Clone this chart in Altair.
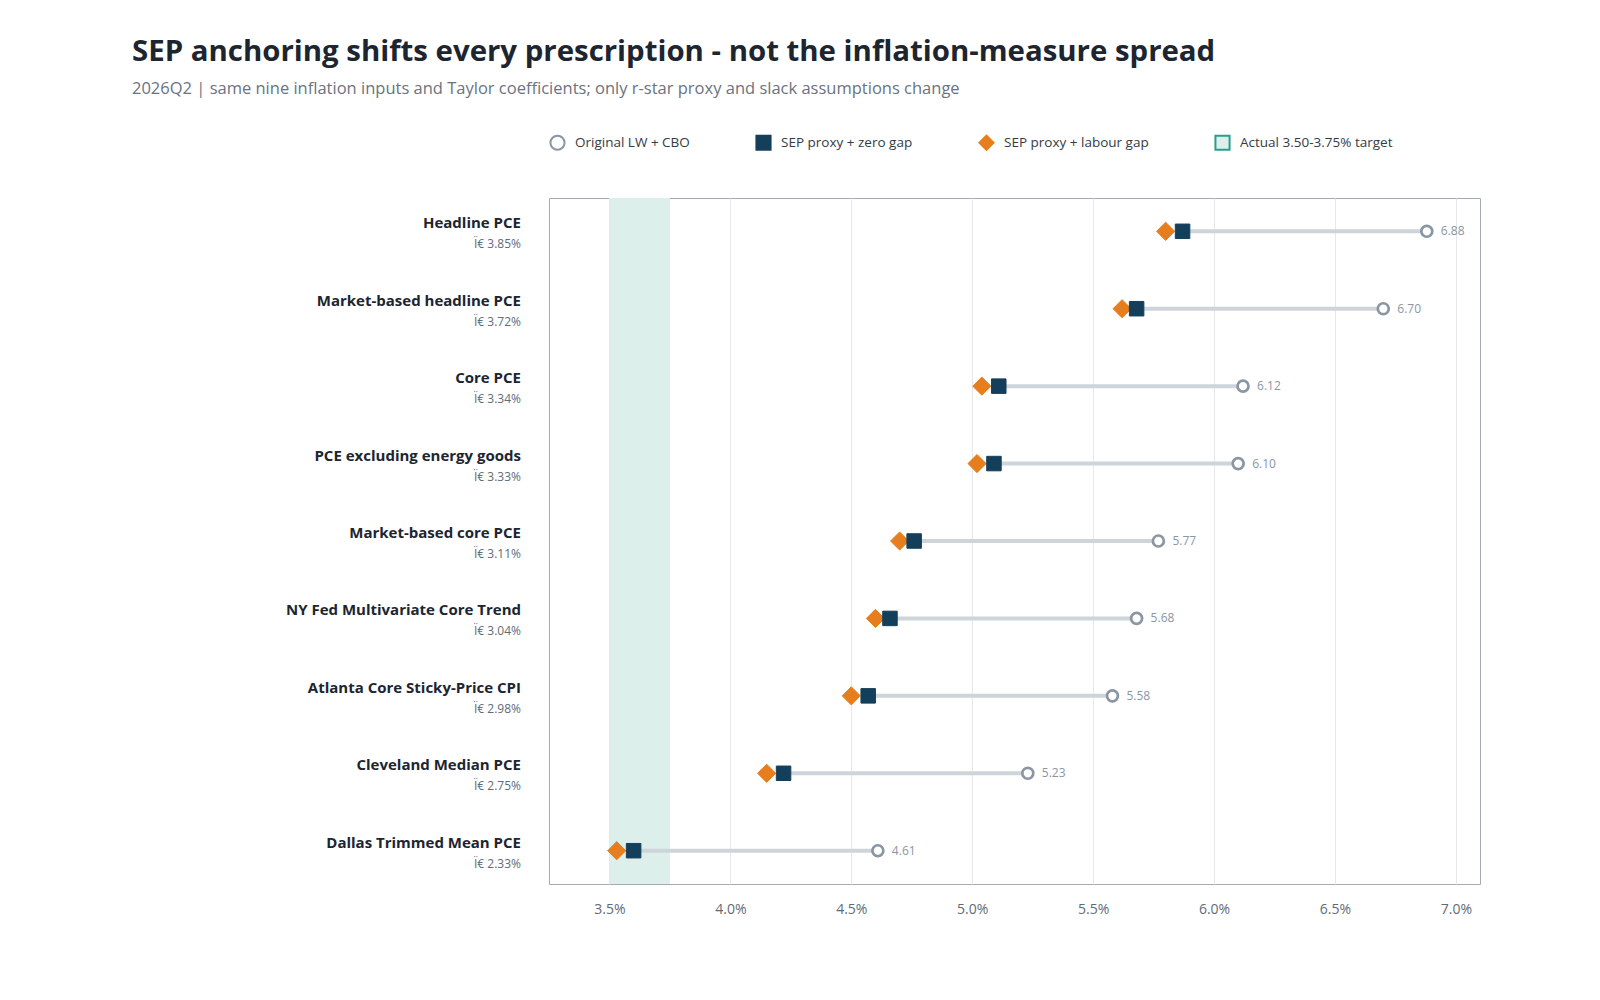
import pandas as pd
import altair as alt

FONT = "Segoe UI, Open Sans, sans-serif"

# data
measures = [
    "Headline PCE",
    "Market-based headline PCE",
    "Core PCE",
    "PCE excluding energy goods",
    "Market-based core PCE",
    "NY Fed Multivariate Core Trend",
    "Atlanta Core Sticky-Price CPI",
    "Cleveland Median PCE",
    "Dallas Trimmed Mean PCE",
]
pi_vals = [3.85, 3.72, 3.34, 3.33, 3.11, 3.04, 2.98, 2.75, 2.33]
lw_cbo = [6.88, 6.70, 6.12, 6.10, 5.77, 5.68, 5.58, 5.23, 4.61]
sep_zero = [5.87, 5.68, 5.11, 5.09, 4.76, 4.66, 4.57, 4.22, 3.60]
sep_labour = [5.80, 5.62, 5.04, 5.02, 4.70, 4.60, 4.50, 4.15, 3.53]

series_names = [
    "Original LW + CBO",
    "SEP proxy + zero gap",
    "SEP proxy + labour gap",
    "Actual 3.50-3.75% target",
]
target_lo, target_hi = 3.50, 3.75

wide = pd.DataFrame({
    "measure": measures,
    "pi": pi_vals,
    "lw": lw_cbo,
    "zero": sep_zero,
    "labour": sep_labour,
})
wide["pi_label"] = ["Ï€ " + f"{v:.2f}%" for v in pi_vals]
wide["lw_label"] = [f"{v:.2f}" for v in lw_cbo]

long = pd.DataFrame({
    "measure": measures * 3,
    "series": [series_names[0]] * 9 + [series_names[2]] * 9 + [series_names[1]] * 9,
    "value": lw_cbo + sep_labour + sep_zero,
})

band = pd.DataFrame({"lo": [target_lo], "hi": [target_hi], "series": [series_names[3]]})

x_scale = alt.Scale(domain=[3.25, 7.1], nice=False, zero=False)
y_enc = alt.Y("measure:N", sort=measures, scale=alt.Scale(type="point", padding=0.43), axis=None)

fill_scale = alt.Scale(domain=series_names, range=["#ffffff", "#143f5b", "#e67e1e", "#dcefea"])
stroke_scale = alt.Scale(domain=series_names, range=["#8a96a3", "#143f5b", "#e67e1e", "#2a9d8f"])
shape_scale = alt.Scale(domain=series_names, range=["circle", "square", "diamond", "square"])

rect = alt.Chart(band).mark_rect(strokeWidth=0).encode(
    x=alt.X("lo:Q", scale=x_scale, title=None,
            axis=alt.Axis(values=[3.5, 4.0, 4.5, 5.0, 5.5, 6.0, 6.5, 7.0],
                          labelExpr="format(datum.value, '.1f') + '%'")),
    x2="hi:Q",
    fill=alt.Fill("series:N", scale=fill_scale, title=None),
    stroke=alt.Stroke("series:N", scale=stroke_scale, title=None),
    shape=alt.Shape("series:N", scale=shape_scale, title=None),
)

rule = alt.Chart(wide).mark_rule(color="#cdd4da", strokeWidth=4).encode(
    x=alt.X("zero:Q", scale=x_scale),
    x2="lw:Q",
    y=y_enc,
)


def point_layer(name, size, sw):
    return alt.Chart(long).transform_filter(
        alt.datum.series == name
    ).mark_point(filled=True, size=size, strokeWidth=sw, opacity=1).encode(
        x=alt.X("value:Q", scale=x_scale),
        y=y_enc,
        fill=alt.Fill("series:N", scale=fill_scale, title=None),
        stroke=alt.Stroke("series:N", scale=stroke_scale, title=None),
        shape=alt.Shape("series:N", scale=shape_scale, title=None),
    )


p_lw = point_layer(series_names[0], 120, 2.7)
p_labour = point_layer(series_names[2], 330, 1)
p_zero = point_layer(series_names[1], 210, 1)

value_labels = alt.Chart(wide).mark_text(
    align="left", baseline="middle", dx=14, fontSize=12, color="#8a96a3", font=FONT
).encode(
    x=alt.X("lw:Q", scale=x_scale),
    y=y_enc,
    text="lw_label:N",
)

name_labels = alt.Chart(wide).mark_text(
    align="right", baseline="middle", dy=-8, fontSize=15, fontWeight="bold", color="#1c2530", font=FONT
).encode(
    x=alt.value(-28),
    y=y_enc,
    text="measure:N",
)

pi_labels = alt.Chart(wide).mark_text(
    align="right", baseline="middle", dy=13, fontSize=12, color="#5f6b77", font=FONT
).encode(
    x=alt.value(-28),
    y=y_enc,
    text="pi_label:N",
)

chart = alt.layer(
    rect, rule, p_lw, p_labour, p_zero, value_labels, name_labels, pi_labels
).properties(
    width=931,
    height=686,
    padding={"left": 124, "top": 29, "right": 10, "bottom": 10},
    title=alt.TitleParams(
        text="SEP anchoring shifts every prescription - not the inflation-measure spread",
        subtitle="2026Q2 | same nine inflation inputs and Taylor coefficients; only r-star proxy and slack assumptions change",
        anchor="start",
        frame="group",
        dx=-417,
        font=FONT,
        fontSize=29.4,
        fontWeight="bold",
        color="#1c2530",
        subtitleFont=FONT,
        subtitleFontSize=16.5,
        subtitleColor="#6b7280",
        subtitlePadding=13,
        offset=36,
    ),
).configure_view(
    stroke="#a3abb7", strokeWidth=1
).configure_axis(
    labelFont=FONT, labelFontSize=14, labelColor="#5f6b77",
    grid=True, gridColor="#e6e8eb", ticks=False, domain=False, labelPadding=18,
).configure_legend(
    orient="top", direction="horizontal", labelFont=FONT, labelFontSize=13.5, labelColor="#333b44",
    symbolSize=200, symbolStrokeWidth=2, columnPadding=62, labelOffset=9, offset=44,
)

chart.save("out.html", embed_options={"renderer": "svg", "actions": False})
